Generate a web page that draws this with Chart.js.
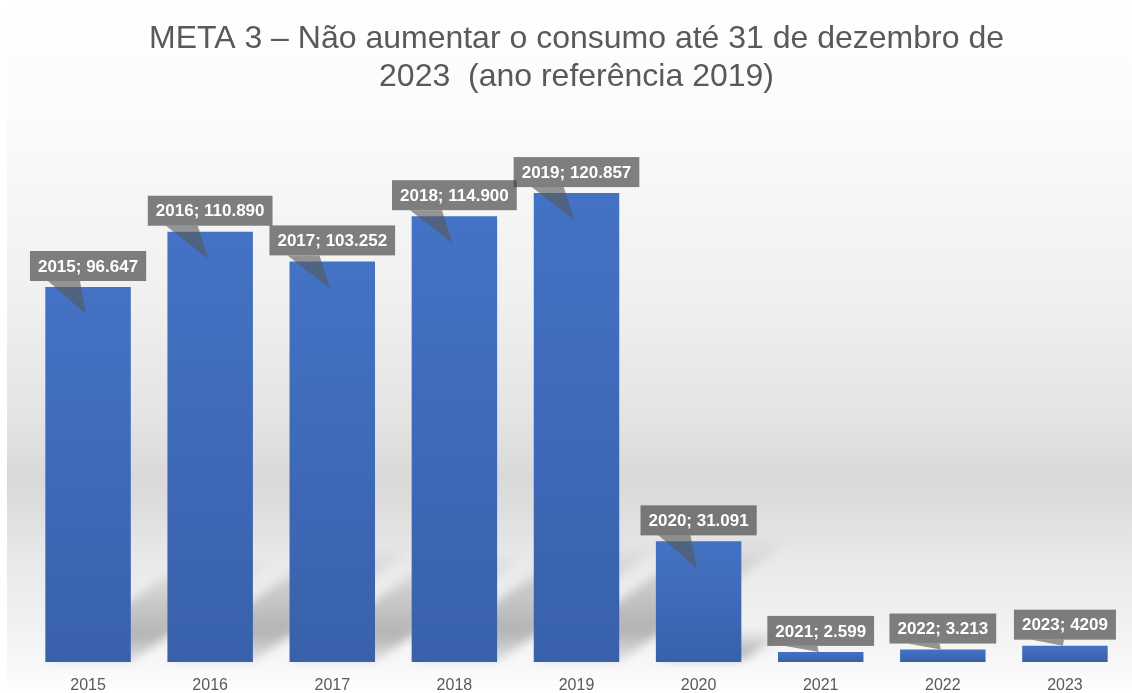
<!DOCTYPE html>
<html>
<head>
<meta charset="utf-8">
<script src="https://cdn.jsdelivr.net/npm/chart.js@4"></script>
<style>
  html, body { margin: 0; padding: 0; background: #ffffff; }
  #wrap { width: 1132px; height: 693px; position: relative; }
</style>
</head>
<body>
<div id="wrap"><canvas id="c" width="1132" height="693"></canvas></div>
<script>
const categories = ['2015', '2016', '2017', '2018', '2019', '2020', '2021', '2022', '2023'];
const consumo = [96647, 110890, 103252, 114900, 120857, 31091, 2599, 3213, 4209];
const dataLabels = ['2015; 96.647', '2016; 110.890', '2017; 103.252', '2018; 114.900', '2019; 120.857',
                    '2020; 31.091', '2021; 2.599', '2022; 3.213', '2023; 4209'];
const titleLines = ['META 3 – Não aumentar o consumo até 31 de dezembro de', '2023  (ano referência 2019)'];
const yMax = 140000;

const backgroundPlugin = {
  id: 'bg',
  beforeDraw(chart) {
    const ctx = chart.ctx, W = chart.width, H = chart.height;
    ctx.save();
    ctx.fillStyle = '#ffffff';
    ctx.fillRect(0, 0, W, H);
    const g = ctx.createLinearGradient(0, 0, 0, H);
    g.addColorStop(0.00, '#ffffff');
    g.addColorStop(0.17, '#fbfbfb');
    g.addColorStop(0.43, '#f0f0f0');
    g.addColorStop(0.60, '#e4e4e4');
    g.addColorStop(0.69, '#d9d9d9');
    g.addColorStop(0.73, '#dddddd');
    g.addColorStop(0.80, '#e8e8e8');
    g.addColorStop(0.90, '#f1f1f1');
    g.addColorStop(0.96, '#f8f8f8');
    g.addColorStop(1.00, '#ffffff');
    ctx.fillStyle = g;
    ctx.fillRect(7, 0, W - 7, H);
    ctx.restore();
  }
};

const shadowPlugin = {
  id: 'barShadow',
  beforeDatasetsDraw(chart) {
    const ctx = chart.ctx;
    const meta = chart.getDatasetMeta(0);
    ctx.save();
    ctx.filter = 'blur(5px)';
    meta.data.forEach(bar => {
      const h = bar.base - bar.y;
      if (h < 30) return;
      const half = bar.width / 2;
      const x0 = bar.x - half, x1 = bar.x + half, b = bar.base;
      const dx = h * 0.38, dy = h * 0.27;
      const g = ctx.createLinearGradient(0, b, 0, b - dy);
      g.addColorStop(0.0, 'rgba(0,0,0,0.08)');
      g.addColorStop(0.25, 'rgba(0,0,0,0.26)');
      g.addColorStop(0.6, 'rgba(0,0,0,0.15)');
      g.addColorStop(1.0, 'rgba(0,0,0,0.0)');
      ctx.fillStyle = g;
      ctx.beginPath();
      ctx.moveTo(x0, b);
      ctx.lineTo(x1, b);
      ctx.lineTo(x1 + dx, b - dy);
      ctx.lineTo(x0 + dx, b - dy);
      ctx.closePath();
      ctx.fill();
    });
    ctx.restore();
  }
};

const calloutPlugin = {
  id: 'callouts',
  afterDatasetsDraw(chart) {
    const ctx = chart.ctx;
    const meta = chart.getDatasetMeta(0);
    ctx.save();
    ctx.font = 'bold 17px "Liberation Sans", Arial, sans-serif';
    ctx.textAlign = 'center';
    ctx.textBaseline = 'middle';
    meta.data.forEach((bar, i) => {
      const text = dataLabels[i];
      const w = ctx.measureText(text).width + 16;
      const h = 30;
      const cx = bar.x, top = bar.y;
      const barH = bar.base - bar.y;
      const bx = cx - w / 2, by = top - 6 - h;
      const tipX = cx - 2;
      const tipY = top + Math.min(27, Math.max(0, (barH - 16) * 0.5));
      // pointer
      ctx.fillStyle = 'rgba(88,88,88,0.62)';
      ctx.beginPath();
      ctx.moveTo(bx + 18, by + h);
      ctx.lineTo(tipX, tipY);
      ctx.lineTo(bx + 50, by + h);
      ctx.closePath();
      ctx.fill();
      // box
      ctx.fillStyle = 'rgba(70,70,70,0.68)';
      ctx.fillRect(bx, by, w, h);
      ctx.fillStyle = '#ffffff';
      ctx.fillText(text, cx, by + h / 2 + 1);
    });
    ctx.restore();
  }
};

function barGradient(context) {
  const chart = context.chart;
  const area = chart.chartArea;
  const y = chart.scales && chart.scales.y;
  if (!area || !y || context.dataIndex === undefined) return '#4472c4';
  const top = y.getPixelForValue(consumo[context.dataIndex]);
  const base = y.getPixelForValue(0);
  if (!isFinite(top) || !isFinite(base) || base - top < 1) return '#3f69b8';
  const g = chart.ctx.createLinearGradient(0, top, 0, base);
  g.addColorStop(0, '#4472c4');
  g.addColorStop(1, '#3961ab');
  return g;
}

new Chart(document.getElementById('c'), {
  type: 'bar',
  data: {
    labels: categories,
    datasets: [{
      data: consumo,
      backgroundColor: barGradient,
      borderWidth: 0,
      barPercentage: 0.7,
      categoryPercentage: 1.0
    }]
  },
  options: {
    responsive: false,
    animation: false,
    layout: { padding: { left: 27, right: 6, top: 0, bottom: 0 } },
    plugins: {
      legend: { display: false },
      tooltip: { enabled: false },
      title: {
        display: true,
        text: titleLines,
        fullSize: false,
        color: '#595959',
        font: { family: '"Liberation Sans", Arial, sans-serif', size: 32, weight: 'normal', lineHeight: 1.2 },
        padding: { top: 20, bottom: 22 }
      }
    },
    scales: {
      x: {
        grid: { display: false, drawTicks: false },
        border: { display: false },
        ticks: {
          color: '#595959',
          padding: 16,
          font: { family: '"Liberation Sans", Arial, sans-serif', size: 16, lineHeight: 1.0 }
        },
        afterFit(scale) { scale.height = 31; }
      },
      y: {
        display: false,
        min: 0,
        max: yMax
      }
    }
  },
  plugins: [backgroundPlugin, shadowPlugin, calloutPlugin]
});
</script>
</body>
</html>
